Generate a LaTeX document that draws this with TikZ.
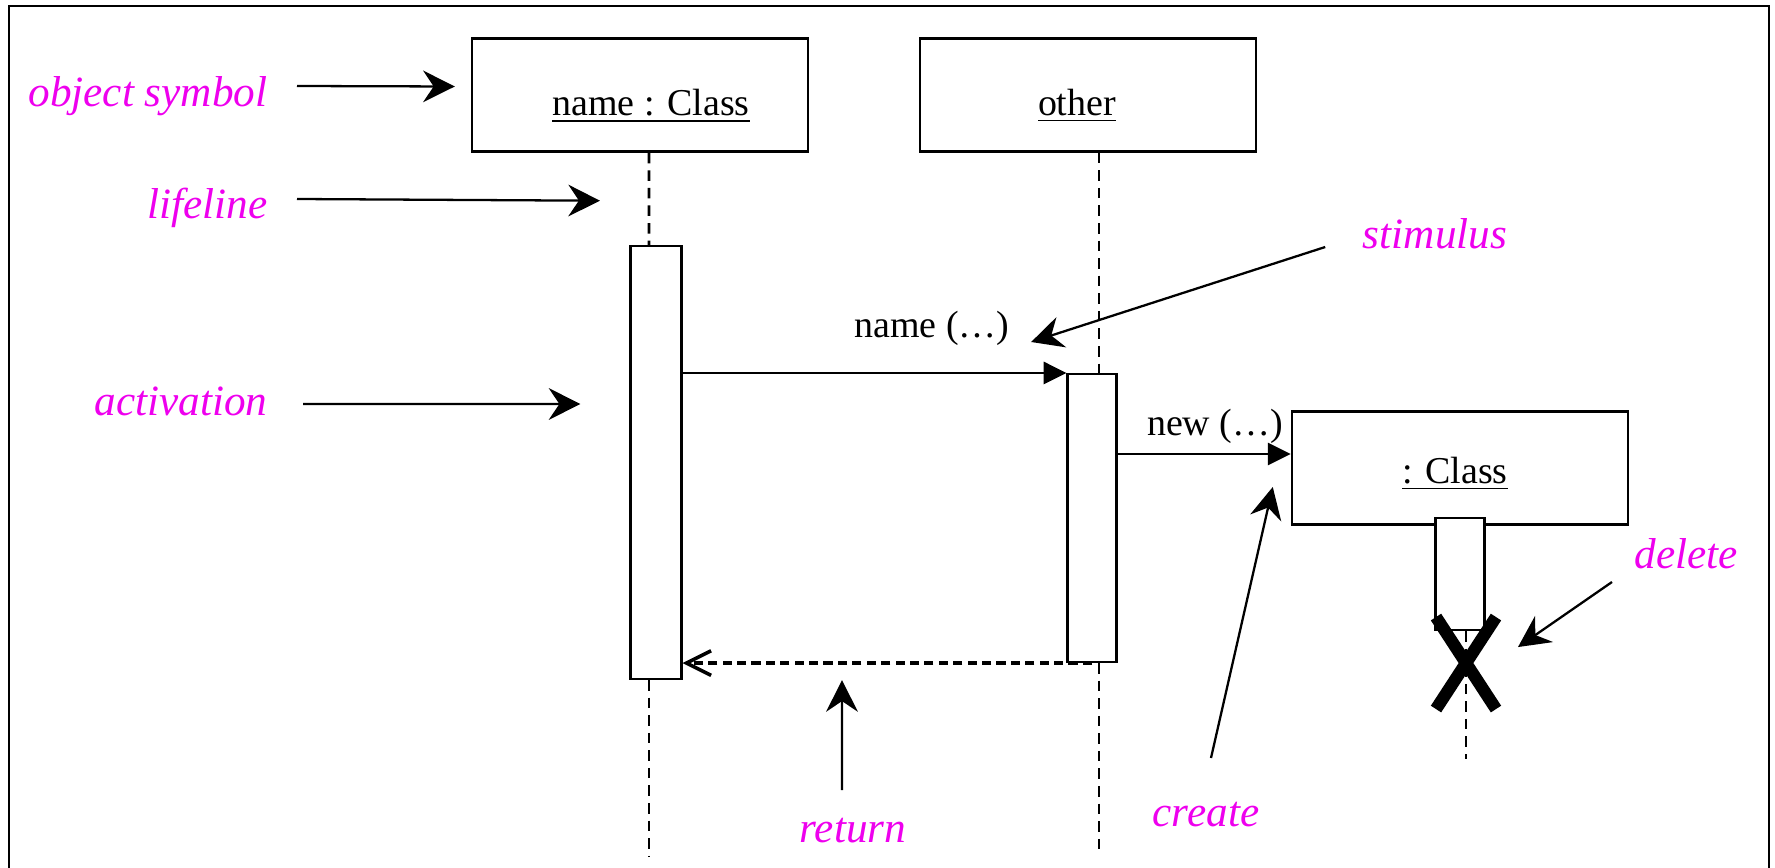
\documentclass[tikz,border=0pt]{standalone}
\usepackage{fontspec}
\setmainfont{Liberation Serif}
\usetikzlibrary{arrows.meta,positioning}
\definecolor{notepink}{RGB}{238,0,238}
\newcommand{\msgfont}{\fontsize{10.8}{13}\selectfont}
\newcommand{\notefont}{\fontsize{12.3}{15}\selectfont\itshape}
\tikzset{
  objbox/.style={draw, line width=0.7pt, minimum width=33.6mm, minimum height=11.3mm,
    inner sep=0pt, text height=4.1mm, text depth=0pt, font=\msgfont},
  actbar/.style={draw, fill=white, line width=0.6pt, minimum width=4.9mm, inner sep=0pt},
  lifeline/.style={line width=0.8pt, dash pattern=on 3pt off 2pt},
  msg/.style={line width=0.7pt, -{Triangle[length=6.5pt,width=6.3pt]}},
  ret/.style={line width=1pt, dash pattern=on 2.6pt off 1.5pt, -{Straight Barb[length=7pt,width=7pt]}},
  msglabel/.style={inner sep=0pt, font=\msgfont},
  note/.style={inner sep=0pt, text=notepink, font=\notefont},
  pointer/.style={line width=0.65pt, -{Stealth[length=9pt,width=9pt,inset=3pt]}},
  cross/.style={line width=3.5pt}
}
\begin{document}
\begin{tikzpicture}[x=0.1mm, y=-0.1mm]
\useasboundingbox (0,0) rectangle (1775,868);
\draw[line width=0.7pt] (9,900) -- (9,6) -- (1769,6) -- (1769,900);

% objects
\node[objbox] (obj1) at (640,95) {\hspace*{2.2mm}\underline{name : Class}};
\node[objbox] (obj2) at (1088,95) {\underline{other}\hspace*{2.2mm}};
\node[objbox, text height=3mm] (obj3) at (1460,468) {\underline{: Class}\hspace*{1mm}};

% activations
\node[actbar, minimum width=5.1mm, minimum height=43.3mm] (act1) at (656,462.5) {};
\node[actbar, minimum height=28.8mm] (act2) at (1092,518) {};
\node[actbar, minimum height=11.2mm] (act3) at (1460,574) {};

% lifelines
\draw[lifeline] ([xshift=0.9mm]obj1.south) -- ([xshift=-0.7mm]act1.north);
\draw[lifeline] ([xshift=-0.7mm]act1.south) -- ++(0,176);
\draw[lifeline] ([xshift=1.1mm]obj2.south) -- ([xshift=0.7mm]act2.north);
\draw[lifeline] ([xshift=0.7mm]act2.south) -- ++(0,193);
\draw[lifeline] ([xshift=0.6mm]act3.south) -- ++(0,128);

% messages
\draw[msg] (act1.east |- act2.north) -- (act2.north west);
\coordinate (newin) at ([yshift=1.4mm]obj3.west);
\draw[msg] (act2.east |- newin) -- (newin);
\draw[ret] (act2.south) -- (act1.east |- act2.south);
\node[msglabel, anchor=base] (namemsg) at (932,338) {name (…)};
\node[msglabel, anchor=base] (newmsg) at (1215,435) {new (…)};

% delete
\coordinate (kill) at ([xshift=0.6mm,yshift=-3.2mm]act3.south);
\draw[cross] (kill) ++(-30,-46) -- ++(60,92) (kill) ++(30,-46) -- ++(-60,92);

% notes
\node[note, anchor=base east] (nobj) at (268,106) {object symbol};
\node[note, anchor=base east] (nlife) at (268,218) {lifeline};
\node[note, anchor=base east] (nact) at (268,415) {activation};
\node[note, anchor=base] (nstim) at (1435,249) {stimulus};
\node[note, anchor=base] (nret) at (853,842) {return};
\node[note, anchor=base] (ncreate) at (1206,826) {create};
\node[note, anchor=base] (ndel) at (1686,568) {delete};

\draw[pointer] ([xshift=2.9mm,yshift=2mm]nobj.base east) -- ([xshift=-1.6mm,yshift=0.85mm]obj1.west);
\draw[pointer] ([xshift=2.9mm,yshift=1.9mm]nlife.base east) -- ([xshift=-4mm,yshift=-4.8mm]obj1.south);
\draw[pointer] ([xshift=3.5mm,yshift=1.1mm]nact.base east) -- ([xshift=-4.9mm,yshift=5.85mm]act1.west);
\draw[pointer] ([xshift=-3.7mm,yshift=0.2mm]nstim.base west) -- ([xshift=2.1mm,yshift=-0.4mm]namemsg.base east);
\draw[pointer] ([xshift=-1.1mm,yshift=5.2mm]nret.base) -- ([xshift=18.6mm]act1.south);
\draw[pointer] ([xshift=0.5mm,yshift=6.8mm]ncreate.base) -- ([xshift=-1.8mm,yshift=-1.9mm]obj3.west);
\draw[pointer] ([xshift=-7.4mm,yshift=-1.4mm]ndel.base) -- ([xshift=5.2mm,yshift=1.6mm]kill);
\end{tikzpicture}
\end{document}
